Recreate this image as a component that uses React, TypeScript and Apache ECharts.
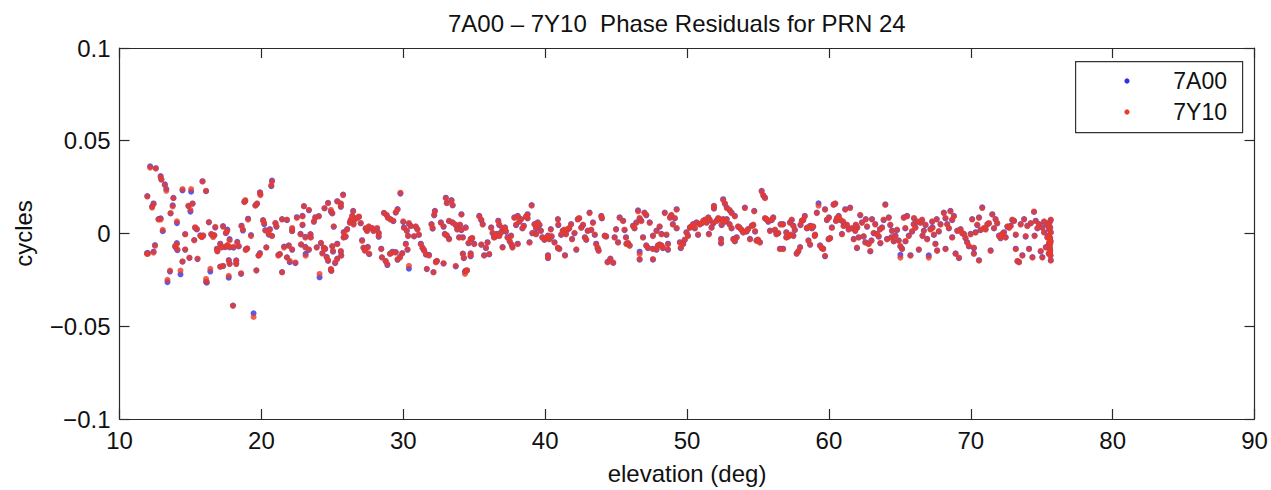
import React, { useEffect, useRef } from "react";
import * as echarts from "echarts";

const titleText = "7A00 \u2013 7Y10  Phase Residuals for PRN 24";
const xTicks = [10, 20, 30, 40, 50, 60, 70, 80, 90];
const yTicks = [-0.1, -0.05, 0, 0.05, 0.1];
const seriesNames = ["7A00", "7Y10"];

// [elevation (deg), residual (cycles)] for 7Y10 (red)
const points7Y10: [number, number][] = [
  [11.94, -0.011], [11.96, 0.0199], [12.0, -0.011], [12.16, 0.0355], [12.3, 0.014], [12.4, 0.0158], [12.4, -0.0103], [12.5, -0.0067], [12.56, 0.035], [12.75, 0.0075],
  [12.9, 0.0075], [12.9, 0.0305], [12.95, 0.029], [13.05, 0.002], [13.2, 0.026], [13.3, 0.023], [13.38, -0.025], [13.56, -0.02], [13.6, 0.011], [13.75, 0.0146],
  [13.8, 0.019], [13.92, -0.0067], [14.04, -0.0058], [14.05, 0.0066], [14.08, -0.0085], [14.3, -0.02], [14.44, 0.024], [14.44, -0.015], [14.63, -0.0005], [14.63, -0.0085],
  [14.86, 0.015], [14.93, -0.013], [15.0, 0.0128], [15.05, 0.024], [15.15, 0.016], [15.27, -0.0037], [15.33, 0.0034], [15.45, 0.0025], [15.5, -0.0135], [15.7, -0.0014],
  [15.8, -0.002], [15.85, 0.028], [15.9, -0.001], [16.1, 0.023], [16.1, -0.0245], [16.15, -0.026], [16.3, 0.0062], [16.4, -0.019], [16.47, -0.0002], [16.6, -0.002],
  [16.68, -0.0009], [16.75, 0.0036], [16.87, -0.0085], [16.9, -0.0097], [17.1, -0.0058], [17.1, -0.018], [17.2, -0.0076], [17.3, 0.0036], [17.3, -0.0174], [17.45, -0.0072],
  [17.5, 0.0004], [17.6, 0.0013], [17.6, -0.0062], [17.7, -0.0147], [17.7, -0.0228], [17.76, -0.0072], [17.76, -0.0037], [17.76, -0.0165], [18.0, -0.039], [18.04, -0.0072],
  [18.23, -0.0147], [18.23, -0.0165], [18.3, -0.005], [18.4, -0.0067], [18.57, -0.0214], [18.6, 0.0039], [18.7, 0.0021], [18.8, 0.0169], [18.87, 0.018], [18.9, -0.009],
  [19.0, -0.008], [19.06, 0.0075], [19.27, -0.0014], [19.45, -0.045], [19.58, 0.015], [19.65, -0.02], [19.7, 0.0163], [19.8, -0.012], [19.9, -0.011], [19.9, 0.022],
  [19.93, 0.0207], [20.12, 0.0069], [20.2, 0.0057], [20.28, 0.0016], [20.35, -0.0076], [20.52, -0.0002], [20.6, 0.002], [20.7, 0.026], [20.75, 0.028], [20.75, -0.0014],
  [20.99, 0.0057], [21.06, 0.0039], [21.2, -0.012], [21.3, -0.011], [21.46, -0.021], [21.46, 0.0075], [21.6, -0.0076], [21.8, -0.013], [21.8, 0.0075], [21.93, -0.0067],
  [22.0, -0.0147], [22.17, -0.0085], [22.17, 0.003], [22.17, 0.0013], [22.4, -0.0156], [22.5, 0.0084],
  [22.76, -0.0005], [22.8, -0.0058], [22.9, 0.0092], [22.9, 0.0048], [23.0, 0.0146], [23.1, -0.0023], [23.1, -0.0076], [23.12, -0.012], [23.35, 0.0128], [23.35, -0.0085],
  [23.46, -0.0005], [23.48, -0.0023], [23.7, 0.0066], [23.8, 0.0084], [23.9, -0.0076], [24.05, 0.0092], [24.1, -0.0218], [24.2, -0.005], [24.3, -0.0108], [24.4, -0.0076],
  [24.45, 0.0137], [24.5, -0.0085], [24.6, -0.013], [24.7, 0.0163], [24.7, -0.0144], [24.9, -0.019], [24.93, -0.02], [24.9, 0.0128], [25.0, 0.011], [25.0, -0.0067],
  [25.05, -0.0094], [25.1, 0.0039], [25.2, -0.0156], [25.35, -0.0138], [25.35, 0.0172], [25.35, -0.0058], [25.6, 0.0163], [25.6, 0.0146], [25.6, -0.0094], [25.63, -0.012],
  [25.76, 0.0207], [25.8, 0.0004], [25.8, -0.0023], [25.94, -0.0014], [26.05, 0.0021], [26.24, 0.0057], [26.3, 0.0075], [26.4, 0.0092], [26.47, 0.0119], [26.5, 0.0048],
  [26.6, 0.0075], [26.76, 0.0084], [26.88, 0.0092], [27.0, 0.0057], [27.1, -0.004], [27.2, -0.0076], [27.3, -0.0094], [27.35, 0.003], [27.45, 0.0013], [27.5, -0.0076],
  [27.57, 0.0039], [27.6, -0.0108], [27.8, 0.003], [27.9, 0.0013], [28.16, 0.003], [28.27, 0.0004], [28.27, -0.0014], [28.45, -0.0085], [28.5, -0.013], [28.64, 0.011],
  [28.76, -0.0147], [28.83, 0.0101], [28.88, -0.0165], [28.92, 0.0084], [29.07, -0.011], [29.1, 0.0075], [29.24, -0.0103], [29.3, 0.0069], [29.47, 0.0115], [29.47, -0.0103],
  [29.6, 0.0128], [29.6, -0.0138], [29.77, -0.013], [29.8, 0.022], [29.93, -0.0108], [30.0, 0.0066], [30.05, 0.003], [30.18, -0.0058], [30.25, 0.0013], [30.3, -0.0085],
  [30.34, -0.0014], [30.4, 0.0057], [30.4, -0.0174], [30.53, 0.0039], [30.76, -0.0014], [30.88, 0.0039], [31.0, 0.0021], [31.1, -0.0005], [31.24, -0.0058], [31.36, -0.0076],
  [31.47, -0.0094], [31.6, -0.011], [31.66, -0.019], [31.82, -0.012], [31.99, 0.0048], [32.07, 0.003], [32.13, -0.021], [32.18, 0.0101], [32.23, 0.0119], [32.3, -0.0156],
  [32.37, -0.0147], [32.65, 0.0057], [32.84, 0.0039], [32.84, -0.016], [32.93, -0.0005], [33.0, 0.019], [33.07, 0.0163], [33.07, -0.0009], [33.23, -0.0032], [33.23, 0.0069],
  [33.4, 0.0177], [33.48, 0.0154], [33.48, 0.0057], [33.7, 0.0048], [33.7, -0.0174], [33.8, 0.0021], [33.94, -0.0023],
  [34.1, 0.0101], [34.0, 0.0048], [34.1, 0.0021], [34.2, -0.0023], [34.2, -0.011], [34.27, -0.013], [34.35, -0.0218], [34.4, -0.02], [34.5, -0.02], [34.4, 0.003],
  [34.6, -0.005], [34.75, -0.0032], [34.75, -0.011], [34.75, -0.012], [34.86, -0.0023], [35.0, -0.0058], [35.36, 0.0092], [35.5, 0.0075], [35.6, 0.0048], [35.5, -0.0058],
  [35.7, -0.012], [35.83, -0.0076], [35.94, -0.005], [36.06, -0.011], [36.2, 0.003], [36.3, 0.0004], [36.4, -0.0023], [36.5, -0.0014], [36.6, -0.0005], [36.7, 0.0066],
  [36.77, -0.0014], [36.77, 0.0048], [36.9, 0.0004], [37.0, 0.003], [37.0, -0.0076], [37.17, 0.003], [37.24, 0.0013], [37.35, -0.0023], [37.5, -0.004], [37.6, -0.0014],
  [37.64, -0.0058], [37.7, -0.0076], [37.83, 0.0084], [37.95, 0.0048], [38.07, 0.0092], [38.07, -0.0058], [38.18, 0.0066], [38.3, 0.0075], [38.4, 0.003], [38.5, 0.0039],
  [38.65, 0.0092], [38.76, 0.0101], [38.76, 0.0084], [38.9, -0.005], [39.05, 0.015], [39.1, 0.0004], [39.25, 0.0048], [39.36, 0.003], [39.36, -0.0005], [39.48, 0.0057],
  [39.6, 0.0048], [39.7, 0.0013], [39.8, -0.0023], [39.95, -0.0032], [40.07, -0.0023], [40.2, -0.0014], [40.2, -0.012], [40.2, -0.013], [40.3, -0.0032], [40.4, 0.0021],
  [40.46, -0.0014], [40.66, -0.005], [40.9, -0.0076], [40.9, 0.0075], [40.93, 0.0048], [41.0, -0.0085], [41.13, -0.0005], [41.24, 0.0013], [41.36, 0.0021], [41.4, -0.012],
  [41.47, -0.0005], [41.6, 0.0021], [41.7, 0.003], [41.83, 0.0048], [41.9, -0.0032], [42.07, 0.0004], [42.2, -0.0085], [42.3, 0.0075], [42.4, 0.0084], [42.55, 0.003],
  [42.67, 0.0048], [42.8, -0.0023], [42.9, -0.0032], [43.0, 0.0013], [43.13, 0.011], [43.25, 0.0021], [43.37, 0.0057], [43.5, -0.0005], [43.6, -0.0058], [43.7, -0.0076],
  [43.77, -0.0094], [43.96, 0.0092], [44.0, 0.0084], [44.2, -0.0014], [44.3, -0.0014], [44.4, -0.0156], [44.6, -0.0138], [44.8, -0.0156], [44.9, -0.0023], [45.0, 0.0021],
  [45.14, -0.005], [45.25, 0.0084],
  [45.5, 0.0066], [45.6, 0.0021], [45.7, -0.0023], [45.73, -0.0058], [45.84, -0.005], [45.96, -0.0067], [46.2, 0.0039], [46.3, 0.003], [46.43, 0.0057], [46.55, 0.0119],
  [46.66, 0.0084], [46.66, -0.011], [46.66, -0.0138], [46.78, 0.0066], [46.9, -0.0023], [47.0, 0.011], [47.13, 0.0101], [47.13, -0.0067], [47.25, -0.0076], [47.37, 0.0057],
  [47.6, -0.0014], [47.6, -0.0138], [47.6, -0.0085], [47.85, 0.0013], [47.85, -0.0085], [47.95, -0.0067], [48.07, 0.0039], [48.07, -0.0058], [48.2, -0.0005], [48.2, -0.0067],
  [48.3, -0.0076], [48.43, 0.011], [48.55, -0.0005], [48.66, -0.0058], [48.66, -0.0085], [48.8, 0.0084], [48.9, 0.0101], [49.0, 0.0048], [49.14, 0.0084], [49.27, 0.0128],
  [49.27, 0.003], [49.5, -0.005], [49.56, -0.0076], [49.73, -0.0058], [49.84, -0.0032], [49.96, 0.0004], [50.07, -0.0014], [50.2, 0.003], [50.3, 0.0039], [50.43, 0.0048],
  [50.55, 0.003], [50.67, 0.0057], [50.78, -0.0005], [50.9, 0.0048], [51.03, 0.0057], [51.15, 0.0066], [51.26, 0.0075], [51.38, 0.0057], [51.5, 0.0084], [51.54, -0.0005],
  [51.6, 0.0075], [51.73, 0.003], [51.85, 0.0057], [51.9, 0.0146], [51.9, 0.0137], [52.08, 0.0066], [52.2, 0.0084], [52.3, 0.0075], [52.4, -0.0032], [52.4, -0.005],
  [52.44, 0.0048], [52.55, 0.018], [52.55, 0.0075], [52.67, 0.0163], [52.67, 0.0066], [52.8, 0.0137], [52.8, 0.0075], [53.0, 0.0128], [53.0, 0.0048], [53.14, 0.011],
  [53.14, 0.003], [53.27, -0.0032], [53.37, 0.0092], [53.37, -0.004], [53.5, -0.0023], [53.6, 0.0039], [53.7, 0.003], [53.85, 0.0021], [53.96, 0.0004], [54.08, 0.0137],
  [54.2, 0.0013], [54.3, 0.0021], [54.44, -0.0032], [54.56, 0.0039], [54.67, 0.0048], [54.74, 0.0119], [54.8, 0.0013], [54.9, -0.004], [55.0, -0.0032], [55.14, -0.005],
  [55.26, 0.0226], [55.38, 0.0207], [55.5, 0.019], [55.5, 0.0084], [55.6, 0.0075], [55.73, 0.0066], [55.85, 0.0013], [55.97, 0.0075], [56.08, 0.0084], [56.2, 0.0021],
  [56.3, -0.0005], [56.43, 0.0004], [56.55, -0.0085], [56.6, 0.0048],
  [56.77, 0.0048], [56.77, -0.0085], [57.0, 0.0004], [57.0, -0.0023], [57.14, -0.0014], [57.26, 0.0057], [57.3, -0.0005], [57.38, 0.0075], [57.5, 0.0039], [57.5, -0.0014],
  [57.6, 0.0021], [57.73, -0.011], [57.85, -0.0094], [57.97, -0.0076], [58.0, 0.0048], [58.09, 0.0066], [58.2, 0.0075], [58.3, 0.0092], [58.44, 0.003], [58.5, 0.003],
  [58.56, -0.004], [58.68, -0.0058], [58.7, 0.0039], [58.8, 0.003], [58.9, 0.0039], [59.0, -0.0014], [59.03, -0.0005], [59.15, 0.011], [59.27, 0.015], [59.38, -0.0067],
  [59.5, -0.0076], [59.6, -0.0085], [59.73, -0.012], [59.73, 0.0128], [59.86, 0.0075], [59.98, -0.0032], [60.0, 0.0084], [60.09, -0.0023], [60.21, 0.003], [60.33, 0.0154],
  [60.45, 0.0163], [60.5, 0.0066], [60.57, 0.0084], [60.69, 0.0092], [60.8, 0.0075], [60.92, -0.0005], [61.0, 0.0066], [61.04, 0.0039], [61.15, 0.0128], [61.27, 0.0048],
  [61.39, 0.0021], [61.5, 0.0137], [61.63, 0.003], [61.75, -0.0032], [61.86, 0.0013], [61.9, 0.0048], [61.98, -0.0076], [62.0, 0.003], [62.1, -0.0023], [62.21, 0.0101],
  [62.33, 0.0057], [62.45, -0.0014], [62.57, -0.005], [62.6, 0.0075], [62.69, 0.0039], [62.8, -0.0058], [62.92, -0.0094], [63.0, -0.004], [63.04, 0.0075], [63.16, 0.0004],
  [63.27, 0.0048], [63.39, -0.0005], [63.51, -0.0014], [63.6, 0.0021], [63.63, -0.005], [63.75, 0.003], [63.86, 0.0075], [63.98, 0.0154], [64.1, -0.0032], [64.22, 0.0084],
  [64.33, 0.0048], [64.4, -0.0023], [64.45, 0.0013], [64.57, -0.004], [64.69, -0.0014], [64.8, 0.0021], [64.92, -0.004], [65.04, -0.0067], [65.04, -0.013], [65.16, -0.0085],
  [65.28, 0.0084], [65.39, 0.003], [65.4, -0.004], [65.51, 0.0092], [65.63, -0.0014], [65.75, -0.012], [65.87, 0.0013], [65.98, 0.0048], [66.0, 0.0084], [66.1, 0.003],
  [66.22, 0.0066], [66.34, -0.0085], [66.45, 0.0057], [66.57, 0.0075], [66.6, -0.0014], [66.69, 0.0013], [66.81, 0.0048], [66.93, -0.0032], [67.04, -0.013], [67.16, 0.0021],
  [67.28, 0.0066], [67.3, 0.003], [67.4, -0.0005], [67.51, -0.0058], [67.6, 0.0075], [67.63, -0.0094], [67.75, 0.0013], [67.87, 0.0048],
  [68.1, 0.011], [68.22, 0.0084], [68.22, -0.0085], [68.34, 0.0048], [68.46, 0.003], [68.57, 0.0119], [68.69, 0.0075], [68.69, -0.0023], [68.81, 0.0092], [68.93, -0.011],
  [69.05, 0.0013], [69.17, -0.013], [69.28, 0.0021], [69.4, 0.0004], [69.52, -0.0005], [69.63, -0.0023], [69.75, -0.005], [69.87, -0.0067], [69.99, -0.0005], [70.1, 0.0075],
  [70.22, -0.011], [70.22, -0.0076], [70.34, 0.0004], [70.46, 0.0048], [70.58, 0.0084], [70.58, -0.0147], [70.69, 0.0021], [70.81, 0.0137], [70.93, 0.003], [71.05, 0.0021],
  [71.17, 0.0048], [71.28, 0.0057], [71.4, -0.0094], [71.52, 0.0101], [71.64, 0.003], [71.75, 0.0075], [71.87, 0.0057], [71.99, -0.0014], [72.1, -0.0023], [72.22, -0.0005],
  [72.34, 0.0004], [72.46, -0.0023], [72.58, 0.0039], [72.7, 0.003], [72.81, 0.0039], [72.93, 0.0075], [73.05, 0.0066], [73.17, -0.0005], [73.17, -0.0085], [73.29, -0.0147],
  [73.4, -0.0156], [73.52, 0.0048], [73.64, -0.012], [73.76, 0.0075], [73.87, -0.0014], [73.99, 0.0039], [74.11, -0.0085], [74.23, 0.0057], [74.35, -0.013], [74.46, 0.0119],
  [74.5, -0.0014], [74.58, 0.0066], [74.7, 0.003], [74.82, 0.0048], [74.93, -0.0094], [75.05, 0.003], [75.05, -0.013], [75.17, 0.0066], [75.17, 0.0004], [75.29, -0.0076],
  [75.4, 0.0048], [75.4, -0.0023], [75.52, 0.0021], [75.52, -0.005], [75.6, -0.0094], [75.64, 0.0075], [75.64, 0.0004], [75.64, -0.0147], [75.6, -0.0058], [75.6, -0.0023],
  [75.5, -0.011], [75.55, 0.0057], [75.58, -0.0076], [75.62, -0.012], [75.56, -0.0032], [75.6, 0.003], [75.5, -0.0014], [75.58, -0.0102], [75.63, -0.0045],
];

// [elevation (deg), residual (cycles)] for 7A00 (blue)
const points7A00: [number, number][] = [
  [11.94, -0.0106], [11.96, 0.0202], [12.0, -0.0105], [12.16, 0.0362], [12.3, 0.0145], [12.4, 0.0162], [12.4, -0.0098], [12.5, -0.0062], [12.56, 0.0352], [12.75, 0.0078],
  [12.9, 0.0082], [12.9, 0.031], [12.95, 0.0292], [13.05, 0.0012], [13.2, 0.0265], [13.3, 0.024], [13.38, -0.0262], [13.56, -0.0205], [13.6, 0.0108], [13.75, 0.0152],
  [13.8, 0.0192], [13.92, -0.0072], [14.04, -0.0052], [14.05, 0.0056], [14.08, -0.009], [14.3, -0.022], [14.44, 0.0232], [14.44, -0.0152], [14.63, -0.0003], [14.63, -0.0088],
  [14.86, 0.0148], [14.93, -0.0132], [15.0, 0.0118], [15.05, 0.0225], [15.15, 0.0162], [15.27, -0.0035], [15.33, 0.003], [15.45, 0.0022], [15.5, -0.0138], [15.7, -0.001],
  [15.8, -0.0018], [15.85, 0.0282], [15.9, -0.0012], [16.1, 0.0228], [16.1, -0.026], [16.15, -0.0265], [16.3, 0.006], [16.4, -0.0205], [16.47, -0.0005], [16.6, -0.0012],
  [16.68, -0.001], [16.75, 0.0032], [16.87, -0.0082], [16.9, -0.0095], [17.1, -0.0055], [17.1, -0.0178], [17.2, -0.0072], [17.3, 0.004], [17.3, -0.0176], [17.45, -0.0074],
  [17.5, 0.0002], [17.6, 0.0021], [17.6, -0.0065], [17.7, -0.0143], [17.7, -0.0238], [17.76, -0.0075], [17.76, -0.003], [17.76, -0.0162], [18.0, -0.0388], [18.04, -0.0076],
  [18.23, -0.0145], [18.23, -0.0162], [18.3, -0.0045], [18.4, -0.007], [18.57, -0.0218], [18.6, 0.0042], [18.7, 0.0016], [18.8, 0.0172], [18.87, 0.0175], [18.9, -0.0085],
  [19.0, -0.0082], [19.06, 0.008], [19.27, -0.0008], [19.45, -0.043], [19.58, 0.0152], [19.65, -0.0198], [19.7, 0.016], [19.8, -0.0118], [19.9, -0.0105], [19.9, 0.0222],
  [19.93, 0.0212], [20.12, 0.0072], [20.2, 0.005], [20.28, 0.0018], [20.35, -0.0074], [20.52, -0.0006], [20.6, 0.0024], [20.7, 0.0255], [20.75, 0.0285], [20.75, -0.0012],
  [20.99, 0.0055], [21.06, 0.0036], [21.2, -0.0115], [21.3, -0.0112], [21.46, -0.0208], [21.46, 0.0078], [21.6, -0.007], [21.8, -0.0128], [21.8, 0.0072], [21.93, -0.0064],
  [22.0, -0.0155], [22.17, -0.0088], [22.17, 0.0024], [22.17, 0.0012], [22.4, -0.016], [22.5, 0.0088],
  [22.76, -0.0002], [22.8, -0.006], [22.9, 0.0095], [22.9, 0.0045], [23.0, 0.0148], [23.1, -0.0018], [23.1, -0.0072], [23.12, -0.011], [23.35, 0.0125], [23.35, -0.0088],
  [23.46, -0.0003], [23.48, -0.002], [23.7, 0.0063], [23.8, 0.0088], [23.9, -0.0074], [24.05, 0.0094], [24.1, -0.0236], [24.2, -0.0052], [24.3, -0.0105], [24.4, -0.0078],
  [24.45, 0.0135], [24.5, -0.0082], [24.6, -0.0126], [24.7, 0.0165], [24.7, -0.0148], [24.9, -0.0195], [24.93, -0.0202], [24.9, 0.0118], [25.0, 0.0108], [25.0, -0.007],
  [25.05, -0.0098], [25.1, 0.0036], [25.2, -0.016], [25.35, -0.0135], [25.35, 0.0174], [25.35, -0.0055], [25.6, 0.016], [25.6, 0.0144], [25.6, -0.0098], [25.63, -0.0118],
  [25.76, 0.021], [25.8, 0.0008], [25.8, -0.002], [25.94, -0.0018], [26.05, 0.0024], [26.24, 0.006], [26.3, 0.0072], [26.4, 0.0095], [26.47, 0.0122], [26.5, 0.0052],
  [26.6, 0.0078], [26.76, 0.0086], [26.88, 0.0089], [27.0, 0.0055], [27.1, -0.0036], [27.2, -0.0078], [27.3, -0.009], [27.35, 0.0025], [27.45, 0.0015], [27.5, -0.0072],
  [27.57, 0.0036], [27.6, -0.0112], [27.8, 0.0028], [27.9, 0.0016], [28.16, 0.0026], [28.27, 0.0002], [28.27, -0.0018], [28.45, -0.0082], [28.5, -0.0128], [28.64, 0.0112],
  [28.76, -0.015], [28.83, 0.0098], [28.88, -0.017], [28.92, 0.0086], [29.07, -0.0108], [29.1, 0.0077], [29.24, -0.0098], [29.3, 0.0066], [29.47, 0.0112], [29.47, -0.01],
  [29.6, 0.0132], [29.6, -0.0142], [29.77, -0.0126], [29.8, 0.0215], [29.93, -0.0105], [30.0, 0.0062], [30.05, 0.0033], [30.18, -0.0055], [30.25, 0.0016], [30.3, -0.0088],
  [30.34, -0.0012], [30.4, 0.0052], [30.4, -0.019], [30.53, 0.0041], [30.76, -0.0016], [30.88, 0.0036], [31.0, 0.0024], [31.1, -0.0008], [31.24, -0.0055], [31.36, -0.0079],
  [31.47, -0.009], [31.6, -0.0114], [31.66, -0.0192], [31.82, -0.0115], [31.99, 0.0051], [32.07, 0.0026], [32.13, -0.0208], [32.18, 0.0098], [32.23, 0.0122], [32.3, -0.0152],
  [32.37, -0.0149], [32.65, 0.006], [32.84, 0.0036], [32.84, -0.0162], [32.93, -0.0002], [33.0, 0.0193], [33.07, 0.0165], [33.07, -0.0012], [33.23, -0.0028], [33.23, 0.0066],
  [33.4, 0.018], [33.48, 0.0151], [33.48, 0.006], [33.7, 0.0045], [33.7, -0.0178], [33.8, 0.0024], [33.94, -0.002],
  [34.1, 0.0104], [34.0, 0.0045], [34.1, 0.0018], [34.2, -0.002], [34.2, -0.0108], [34.27, -0.0133], [34.35, -0.0205], [34.4, -0.0202], [34.5, -0.0198], [34.4, 0.0033],
  [34.6, -0.0053], [34.75, -0.0029], [34.75, -0.0107], [34.75, -0.0123], [34.86, -0.0026], [35.0, -0.0055], [35.36, 0.0095], [35.5, 0.0072], [35.6, 0.0051], [35.5, -0.0061],
  [35.7, -0.0117], [35.83, -0.0079], [35.94, -0.0047], [36.06, -0.0113], [36.2, 0.0033], [36.3, 0.0001], [36.4, -0.002], [36.5, -0.0017], [36.6, -0.0002], [36.7, 0.0069],
  [36.77, -0.0011], [36.77, 0.0045], [36.9, 0.0007], [37.0, 0.0027], [37.0, -0.0073], [37.17, 0.0033], [37.24, 0.001], [37.35, -0.002], [37.5, -0.0043], [37.6, -0.0011],
  [37.64, -0.0061], [37.7, -0.0073], [37.83, 0.0087], [37.95, 0.0045], [38.07, 0.0095], [38.07, -0.0055], [38.18, 0.0063], [38.3, 0.0078], [38.4, 0.0027], [38.5, 0.0042],
  [38.65, 0.0089], [38.76, 0.0104], [38.76, 0.0081], [38.9, -0.0047], [39.05, 0.0153], [39.1, 0.0001], [39.25, 0.0051], [39.36, 0.0027], [39.36, -0.0002], [39.48, 0.006],
  [39.6, 0.0045], [39.7, 0.0016], [39.8, -0.002], [39.95, -0.0035], [40.07, -0.0026], [40.2, -0.0011], [40.2, -0.0117], [40.2, -0.0133], [40.3, -0.0029], [40.4, 0.0024],
  [40.46, -0.0017], [40.66, -0.0047], [40.9, -0.0079], [40.9, 0.0078], [40.93, 0.0045], [41.0, -0.0082], [41.13, -0.0008], [41.24, 0.0016], [41.36, 0.0018], [41.4, -0.0117],
  [41.47, -0.0002], [41.6, 0.0024], [41.7, 0.0027], [41.83, 0.0051], [41.9, -0.0029], [42.07, 0.0001], [42.2, -0.0088], [42.3, 0.0078], [42.4, 0.0081], [42.55, 0.0033],
  [42.67, 0.0045], [42.8, -0.002], [42.9, -0.0035], [43.0, 0.0016], [43.13, 0.0113], [43.25, 0.0018], [43.37, 0.006], [43.5, -0.0008], [43.6, -0.0055], [43.7, -0.0079],
  [43.77, -0.0091], [43.96, 0.0095], [44.0, 0.0081], [44.2, -0.0011], [44.3, -0.0017], [44.4, -0.0153], [44.6, -0.0135], [44.8, -0.0159], [44.9, -0.002], [45.0, 0.0024],
  [45.14, -0.0047], [45.25, 0.0087],
  [45.5, 0.0069], [45.6, 0.0018], [45.7, -0.002], [45.73, -0.0055], [45.84, -0.0053], [45.96, -0.0064], [46.2, 0.0042], [46.3, 0.0027], [46.43, 0.006], [46.55, 0.0125],
  [46.66, 0.0081], [46.66, -0.0098], [46.66, -0.0141], [46.78, 0.0069], [46.9, -0.002], [47.0, 0.0113], [47.13, 0.0098], [47.13, -0.0064], [47.25, -0.0079], [47.37, 0.006],
  [47.6, -0.0011], [47.6, -0.0141], [47.6, -0.0082], [47.85, 0.0016], [47.85, -0.0088], [47.95, -0.0064], [48.07, 0.0036], [48.07, -0.0061], [48.2, -0.0002], [48.2, -0.0064],
  [48.3, -0.0079], [48.43, 0.0113], [48.55, -0.0008], [48.66, -0.0055], [48.66, -0.0088], [48.8, 0.0087], [48.9, 0.0098], [49.0, 0.0051], [49.14, 0.0081], [49.27, 0.0131],
  [49.27, 0.0027], [49.5, -0.0047], [49.56, -0.0079], [49.73, -0.0055], [49.84, -0.0035], [49.96, 0.0007], [50.07, -0.0011], [50.2, 0.0033], [50.3, 0.0036], [50.43, 0.0051],
  [50.55, 0.0027], [50.67, 0.006], [50.78, -0.0008], [50.9, 0.0051], [51.03, 0.0054], [51.15, 0.0069], [51.26, 0.0072], [51.38, 0.006], [51.5, 0.0087], [51.54, -0.0002],
  [51.6, 0.0072], [51.73, 0.0033], [51.85, 0.0054], [51.9, 0.0149], [51.9, 0.0134], [52.08, 0.0069], [52.2, 0.0081], [52.3, 0.0078], [52.4, -0.0029], [52.4, -0.0053],
  [52.44, 0.0045], [52.55, 0.0185], [52.55, 0.0078], [52.67, 0.016], [52.67, 0.0063], [52.8, 0.014], [52.8, 0.0078], [53.0, 0.0125], [53.0, 0.0051], [53.14, 0.0113],
  [53.14, 0.0027], [53.27, -0.0029], [53.37, 0.0095], [53.37, -0.0043], [53.5, -0.002], [53.6, 0.0036], [53.7, 0.0033], [53.85, 0.0018], [53.96, 0.0007], [54.08, 0.014],
  [54.2, 0.001], [54.3, 0.0024], [54.44, -0.0029], [54.56, 0.0042], [54.67, 0.0045], [54.74, 0.0122], [54.8, 0.001], [54.9, -0.0037], [55.0, -0.0035], [55.14, -0.0047],
  [55.26, 0.023], [55.38, 0.0204], [55.5, 0.0193], [55.5, 0.0081], [55.6, 0.0078], [55.73, 0.0063], [55.85, 0.0016], [55.97, 0.0072], [56.08, 0.0087], [56.2, 0.0018],
  [56.3, -0.0002], [56.43, 0.0001], [56.55, -0.0082], [56.6, 0.0051],
  [56.77, 0.0051], [56.77, -0.0082], [57.0, 0.0007], [57.0, -0.002], [57.14, -0.0017], [57.26, 0.006], [57.3, -0.0008], [57.38, 0.0072], [57.5, 0.0042], [57.5, -0.0011],
  [57.6, 0.0018], [57.73, -0.0107], [57.85, -0.0097], [57.97, -0.0073], [58.0, 0.0045], [58.09, 0.0069], [58.2, 0.0072], [58.3, 0.0095], [58.44, 0.0027], [58.5, 0.0033],
  [58.56, -0.0037], [58.68, -0.0061], [58.7, 0.0042], [58.8, 0.0027], [58.9, 0.0036], [59.0, -0.0011], [59.03, -0.0008], [59.15, 0.0113], [59.27, 0.0163], [59.38, -0.0064],
  [59.5, -0.0079], [59.6, -0.0082], [59.73, -0.0123], [59.73, 0.0131], [59.86, 0.0072], [59.98, -0.0029], [60.0, 0.0087], [60.09, -0.0026], [60.21, 0.0033], [60.33, 0.0157],
  [60.45, 0.016], [60.5, 0.0069], [60.57, 0.0081], [60.69, 0.0095], [60.8, 0.0072], [60.92, -0.0002], [61.0, 0.0063], [61.04, 0.0042], [61.15, 0.0131], [61.27, 0.0045],
  [61.39, 0.0024], [61.5, 0.014], [61.63, 0.0027], [61.75, -0.0029], [61.86, 0.0016], [61.9, 0.0045], [61.98, -0.0079], [62.0, 0.0033], [62.1, -0.002], [62.21, 0.0098],
  [62.33, 0.006], [62.45, -0.0017], [62.57, -0.0047], [62.6, 0.0078], [62.69, 0.0036], [62.8, -0.0055], [62.92, -0.0097], [63.0, -0.0037], [63.04, 0.0078], [63.16, 0.0001],
  [63.27, 0.0051], [63.39, -0.0002], [63.51, -0.0017], [63.6, 0.0024], [63.63, -0.0053], [63.75, 0.0033], [63.86, 0.0072], [63.98, 0.0157], [64.1, -0.0029], [64.22, 0.0087],
  [64.33, 0.0045], [64.4, -0.002], [64.45, 0.0016], [64.57, -0.0043], [64.69, -0.0011], [64.8, 0.0018], [64.92, -0.0037], [65.04, -0.007], [65.04, -0.0115], [65.16, -0.0082],
  [65.28, 0.0087], [65.39, 0.0027], [65.4, -0.0043], [65.51, 0.0095], [65.63, -0.0011], [65.75, -0.0117], [65.87, 0.001], [65.98, 0.0051], [66.0, 0.0081], [66.1, 0.0033],
  [66.22, 0.0063], [66.34, -0.0088], [66.45, 0.006], [66.57, 0.0072], [66.6, -0.0011], [66.69, 0.0016], [66.81, 0.0045], [66.93, -0.0029], [67.04, -0.0118], [67.16, 0.0024],
  [67.28, 0.0063], [67.3, 0.0033], [67.4, -0.0008], [67.51, -0.0055], [67.6, 0.0078], [67.63, -0.0091], [67.75, 0.001], [67.87, 0.0051],
  [68.1, 0.0113], [68.22, 0.0081], [68.22, -0.0082], [68.34, 0.0051], [68.46, 0.0027], [68.57, 0.0122], [68.69, 0.0072], [68.69, -0.002], [68.81, 0.0095], [68.93, -0.0107],
  [69.05, 0.0016], [69.17, -0.0133], [69.28, 0.0024], [69.4, 0.0001], [69.52, -0.0002], [69.63, -0.0026], [69.75, -0.0047], [69.87, -0.007], [69.99, -0.0002], [70.1, 0.0078],
  [70.22, -0.0107], [70.22, -0.0079], [70.34, 0.0007], [70.46, 0.0045], [70.58, 0.0087], [70.58, -0.0144], [70.69, 0.0018], [70.81, 0.0141], [70.93, 0.0027], [71.05, 0.0024],
  [71.17, 0.0051], [71.28, 0.0054], [71.4, -0.0091], [71.52, 0.0104], [71.64, 0.0027], [71.75, 0.0078], [71.87, 0.0054], [71.99, -0.0011], [72.1, -0.0026], [72.22, -0.0002],
  [72.34, 0.0007], [72.46, -0.002], [72.58, 0.0036], [72.7, 0.0033], [72.81, 0.0042], [72.93, 0.0072], [73.05, 0.0069], [73.17, -0.0008], [73.17, -0.0082], [73.29, -0.015],
  [73.4, -0.0153], [73.52, 0.0051], [73.64, -0.0117], [73.76, 0.0078], [73.87, -0.0017], [73.99, 0.0042], [74.11, -0.0082], [74.23, 0.0054], [74.35, -0.0127], [74.46, 0.0116],
  [74.5, -0.0011], [74.58, 0.0069], [74.7, 0.0027], [74.82, 0.0051], [74.93, -0.0097], [75.05, 0.0033], [75.05, -0.0127], [75.17, 0.0063], [75.17, 0.0007], [75.29, -0.0073],
  [75.4, 0.0045], [75.4, -0.002], [75.52, 0.0024], [75.52, -0.0053], [75.6, -0.0091], [75.64, 0.0072], [75.64, 0.0007], [75.64, -0.0144], [75.6, -0.0055], [75.6, -0.0026],
  [75.5, -0.0107], [75.55, 0.006], [75.58, -0.0079], [75.62, -0.0117], [75.56, -0.0029], [75.6, 0.0033], [75.5, -0.0011], [75.58, -0.0105], [75.63, -0.0042],
];

const FONT = "'Liberation Sans', Arial, Helvetica, sans-serif";
const BLUE = "#2f2fe8";
const RED = "#ec3b26";

const GRID = { left: 119.5, top: 48, right: 16.5, bottom: 67 };

function fmtY(v: number): string {
  const r = parseFloat(v.toFixed(3));
  if (r === 0) return "0";
  return r < 0 ? "\u2212" + String(Math.abs(r)) : String(r);
}

export default function App() {
  const ref = useRef<HTMLDivElement>(null);

  useEffect(() => {
    if (!ref.current) return;
    const chart = echarts.init(ref.current, null, { renderer: "svg" });
    const xMin = xTicks[0];
    const xMax = xTicks[xTicks.length - 1];
    const xInt = xTicks[1] - xTicks[0];
    const yMin = yTicks[0];
    const yMax = yTicks[yTicks.length - 1];
    const yInt = yTicks[1] - yTicks[0];

    const axisLine = { show: true, onZero: false, lineStyle: { color: "#2a2a2a", width: 1.2 } };
    const axisTick = { show: true, inside: true, length: 10, lineStyle: { color: "#2a2a2a", width: 1.2 } };

    const legendLeft = 1075;
    const legendTop = 61;
    const legendRows = [81, 112];
    const legendColors = [BLUE, RED];

    chart.setOption({
      animation: false,
      backgroundColor: "#ffffff",
      title: {
        text: titleText,
        left: 443,
        top: 6,
        textStyle: { fontFamily: FONT, fontSize: 24, fontWeight: "normal", color: "#111" },
      },
      grid: GRID,
      xAxis: [
        {
          type: "value",
          min: xMin,
          max: xMax,
          interval: xInt,
          position: "bottom",
          name: "elevation (deg)",
          nameLocation: "middle",
          nameGap: 42,
          nameTextStyle: { fontFamily: FONT, fontSize: 24, color: "#111" },
          axisLine,
          axisTick,
          axisLabel: { fontFamily: FONT, fontSize: 24, color: "#111", margin: 9 },
          splitLine: { show: false },
        },
        {
          type: "value",
          min: xMin,
          max: xMax,
          interval: xInt,
          position: "top",
          axisLine,
          axisTick,
          axisLabel: { show: false },
          splitLine: { show: false },
        },
      ],
      yAxis: [
        {
          type: "value",
          min: yMin,
          max: yMax,
          interval: yInt,
          position: "left",
          name: "cycles",
          nameLocation: "middle",
          nameGap: 84,
          nameTextStyle: { fontFamily: FONT, fontSize: 24, color: "#111" },
          axisLine,
          axisTick,
          axisLabel: { fontFamily: FONT, fontSize: 24, color: "#111", margin: 9, formatter: fmtY },
          splitLine: { show: false },
        },
        {
          type: "value",
          min: yMin,
          max: yMax,
          interval: yInt,
          position: "right",
          axisLine,
          axisTick,
          axisLabel: { show: false },
          splitLine: { show: false },
        },
      ],
      series: [
        {
          name: seriesNames[0],
          type: "scatter",
          xAxisIndex: 0,
          yAxisIndex: 0,
          data: points7A00,
          symbol: "circle",
          symbolSize: 6,
          itemStyle: { color: BLUE },
        },
        {
          name: seriesNames[1],
          type: "scatter",
          xAxisIndex: 0,
          yAxisIndex: 0,
          data: points7Y10,
          symbol: "circle",
          symbolSize: 6,
          itemStyle: { color: RED },
        },
      ],
      graphic: [
        {
          type: "rect",
          left: legendLeft,
          top: legendTop,
          shape: { x: 0, y: 0, width: 167, height: 71 },
          style: { fill: "#ffffff", stroke: "#333", lineWidth: 1.2 },
          z: 100,
        },
        ...seriesNames.map((name, i) => ({
          type: "circle",
          shape: { cx: 1127, cy: legendRows[i], r: 2.6 },
          style: { fill: legendColors[i] },
          z: 101,
        })),
        ...seriesNames.map((name, i) => ({
          type: "text",
          x: 1227,
          y: legendRows[i],
          style: {
            text: name,
            fontFamily: FONT,
            fontSize: 23,
            fill: "#111",
            textAlign: "right",
            textVerticalAlign: "middle",
          },
          z: 101,
        })),
      ],
    });

    return () => {
      chart.dispose();
    };
  }, []);

  return (
    <div
      ref={ref}
      style={{ position: "fixed", left: 0, top: 0, width: 1271, height: 490, background: "#fff" }}
    />
  );
}
